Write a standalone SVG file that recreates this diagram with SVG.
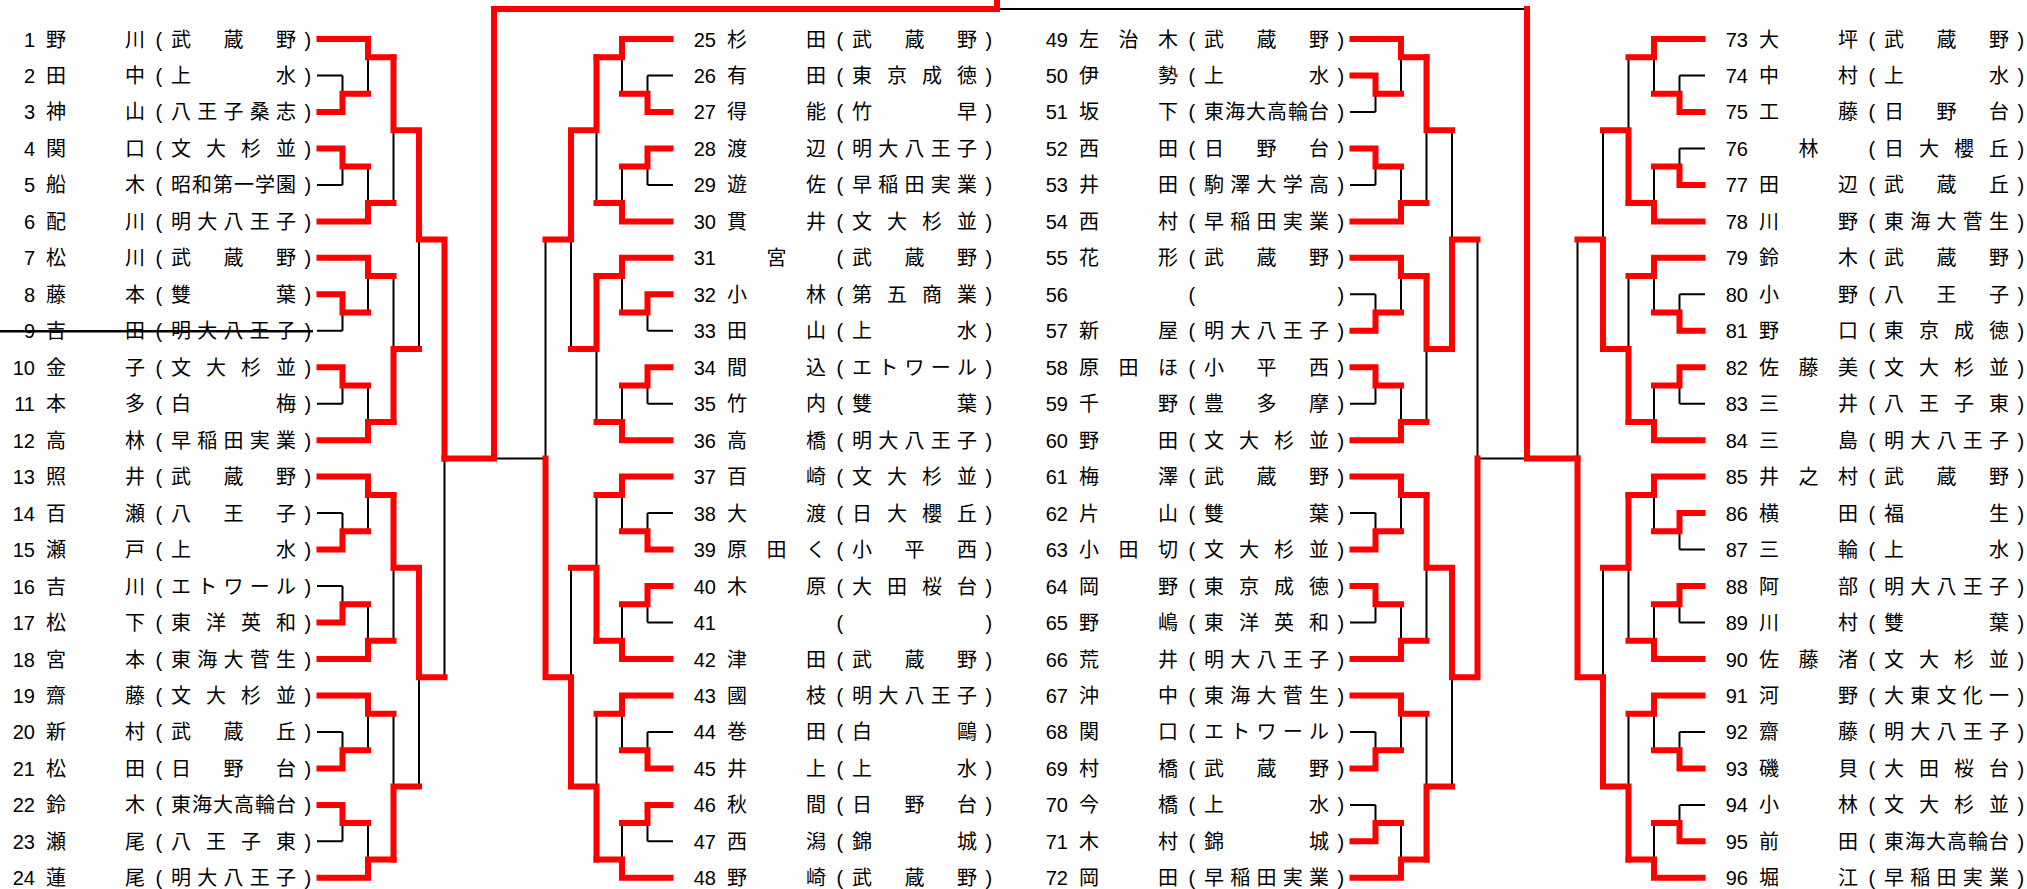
<svg xmlns="http://www.w3.org/2000/svg" xmlns:xlink="http://www.w3.org/1999/xlink" width="2027" height="889" viewBox="0 0 2027 889">
<style>
.n{font-family:"Liberation Sans",Arial,sans-serif;font-size:20px;text-anchor:end;fill:#000}
.p{font-family:"Liberation Sans",Arial,sans-serif;font-size:20px;fill:#000}
.t{font-family:"Noto Sans CJK JP","Noto Sans CJK SC",sans-serif;font-size:20px;fill:#000}
.m{text-anchor:middle}
.bk{fill:none;stroke:#000;stroke-width:2}
.rd{fill:none;stroke:#f00;stroke-width:6;stroke-linecap:square}
</style>
<defs>
<path id="bkt" class="bk" d="M0 39H51M0 75.5H25.5M0 111.9H25.5M25.5 75.5V111.9M25.5 93.7H51M51 39V93.7M51 57.2H76.5M0 148.4H25.5M0 184.9H25.5M0 221.4H51M25.5 148.4V184.9M25.5 166.6H51M51 166.6V221.4M51 203.1H76.5M76.5 57.2V203.1M76.5 130.2H102M0 257.8H51M0 294.3H25.5M0 330.8H25.5M25.5 294.3V330.8M25.5 312.5H51M51 257.8V312.5M51 276.1H76.5M0 367.2H25.5M0 403.7H25.5M0 440.2H51M25.5 367.2V403.7M25.5 385.5H51M51 385.5V440.2M51 421.9H76.5M76.5 276.1V421.9M76.5 349H102M0 476.6H51M0 513.1H25.5M0 549.6H25.5M25.5 513.1V549.6M25.5 531.3H51M51 476.6V531.3M51 494.9H76.5M0 586.1H25.5M0 622.5H25.5M0 659H51M25.5 586.1V622.5M25.5 604.3H51M51 604.3V659M51 640.8H76.5M76.5 494.9V640.8M76.5 567.8H102M0 695.5H51M0 731.9H25.5M0 768.4H25.5M25.5 731.9V768.4M25.5 750.2H51M51 695.5V750.2M51 713.7H76.5M0 804.9H25.5M0 841.3H25.5M0 877.8H51M25.5 804.9V841.3M25.5 823.1H51M51 823.1V877.8M51 859.6H76.5M76.5 713.7V859.6M76.5 786.6H102M102 130.2V349M102 239.6H127.5M102 567.8V786.6M102 677.2H127.5M127.5 239.6V677.2"/>
<path id="sd" class="rd" d="M2.5 39H51V57.2H76.5M2.5 221.4H51V203.1H76.5M2.5 257.8H51V276.1H76.5M2.5 440.2H51V421.9H76.5M2.5 476.6H51V494.9H76.5M2.5 659H51V640.8H76.5M2.5 695.5H51V713.7H76.5M2.5 877.8H51V859.6H76.5"/>
</defs>
<rect width="2027" height="889" fill="#fff"/>
<g id="connectors">
<use href="#bkt" xlink:href="#bkt" transform="translate(317 0)"/>
<use href="#bkt" xlink:href="#bkt" transform="translate(673 0) scale(-1 1)"/>
<use href="#bkt" xlink:href="#bkt" transform="translate(1350 0)"/>
<use href="#bkt" xlink:href="#bkt" transform="translate(1705 0) scale(-1 1)"/>
<path class="bk" d="M444.5 458.4H545.5M1477.5 458.4H1577.5M494 458.4V9H1527V458.4"/>
<g transform="translate(317 0)">
<use href="#sd" xlink:href="#sd"/>
<path class="rd" d="M2.5 111.9H25.5V93.7H51M2.5 148.4H25.5V166.6H51M76.5 57.2V130.2H102M2.5 294.3H25.5V312.5H51M2.5 367.2H25.5V385.5H51M76.5 421.9V349H102M2.5 549.6H25.5V531.3H51M2.5 622.5H25.5V604.3H51M76.5 494.9V567.8H102M2.5 768.4H25.5V750.2H51M2.5 804.9H25.5V823.1H51M76.5 859.6V786.6H102M102 130.2V239.6H127.5M102 567.8V677.2H127.5M127.5 239.6V458.4"/>
</g>
<g transform="translate(673 0) scale(-1 1)">
<use href="#sd" xlink:href="#sd"/>
<path class="rd" d="M2.5 111.9H25.5V93.7H51M2.5 148.4H25.5V166.6H51M76.5 57.2V130.2H102M2.5 294.3H25.5V312.5H51M2.5 367.2H25.5V385.5H51M76.5 276.1V349H102M2.5 549.6H25.5V531.3H51M2.5 586.1H25.5V604.3H51M76.5 640.8V567.8H102M2.5 768.4H25.5V750.2H51M2.5 804.9H25.5V823.1H51M76.5 859.6V786.6H102M102 130.2V239.6H127.5M102 786.6V677.2H127.5M127.5 677.2V458.4"/>
</g>
<g transform="translate(1350 0)">
<use href="#sd" xlink:href="#sd"/>
<path class="rd" d="M2.5 75.5H25.5V93.7H51M2.5 148.4H25.5V166.6H51M76.5 57.2V130.2H102M2.5 330.8H25.5V312.5H51M2.5 367.2H25.5V385.5H51M76.5 276.1V349H102M2.5 549.6H25.5V531.3H51M2.5 586.1H25.5V604.3H51M76.5 494.9V567.8H102M2.5 768.4H25.5V750.2H51M2.5 841.3H25.5V823.1H51M76.5 859.6V786.6H102M102 349V239.6H127.5M102 567.8V677.2H127.5M127.5 677.2V458.4"/>
</g>
<g transform="translate(1705 0) scale(-1 1)">
<use href="#sd" xlink:href="#sd"/>
<path class="rd" d="M2.5 111.9H25.5V93.7H51M2.5 184.9H25.5V166.6H51M76.5 203.1V130.2H102M2.5 330.8H25.5V312.5H51M2.5 367.2H25.5V385.5H51M76.5 421.9V349H102M2.5 513.1H25.5V531.3H51M2.5 586.1H25.5V604.3H51M76.5 494.9V567.8H102M2.5 768.4H25.5V750.2H51M2.5 841.3H25.5V823.1H51M76.5 859.6V786.6H102M102 349V239.6H127.5M102 786.6V677.2H127.5M127.5 677.2V458.4"/>
</g>
<path class="rd" d="M444.5 458.4H494V9H997V2M1577.5 458.4H1527V9"/>
</g>
<g id="p1" transform="translate(35 46.5)"><text class="n">1</text><text class="t" x="11" textLength="99">野川</text><text class="p" x="120.5">(</text><text class="t" x="136" textLength="125">武蔵野</text><text class="p" x="269.5">)</text></g>
<g id="p2" transform="translate(35 83)"><text class="n">2</text><text class="t" x="11" textLength="99">田中</text><text class="p" x="120.5">(</text><text class="t" x="136" textLength="125">上水</text><text class="p" x="269.5">)</text></g>
<g id="p3" transform="translate(35 119.4)"><text class="n">3</text><text class="t" x="11" textLength="99">神山</text><text class="p" x="120.5">(</text><text class="t" x="136" textLength="125">八王子桑志</text><text class="p" x="269.5">)</text></g>
<g id="p4" transform="translate(35 155.9)"><text class="n">4</text><text class="t" x="11" textLength="99">関口</text><text class="p" x="120.5">(</text><text class="t" x="136" textLength="125">文大杉並</text><text class="p" x="269.5">)</text></g>
<g id="p5" transform="translate(35 192.4)"><text class="n">5</text><text class="t" x="11" textLength="99">船木</text><text class="p" x="120.5">(</text><text class="t" x="136" textLength="125">昭和第一学園</text><text class="p" x="269.5">)</text></g>
<g id="p6" transform="translate(35 228.9)"><text class="n">6</text><text class="t" x="11" textLength="99">配川</text><text class="p" x="120.5">(</text><text class="t" x="136" textLength="125">明大八王子</text><text class="p" x="269.5">)</text></g>
<g id="p7" transform="translate(35 265.3)"><text class="n">7</text><text class="t" x="11" textLength="99">松川</text><text class="p" x="120.5">(</text><text class="t" x="136" textLength="125">武蔵野</text><text class="p" x="269.5">)</text></g>
<g id="p8" transform="translate(35 301.8)"><text class="n">8</text><text class="t" x="11" textLength="99">藤本</text><text class="p" x="120.5">(</text><text class="t" x="136" textLength="125">雙葉</text><text class="p" x="269.5">)</text></g>
<g id="p9" transform="translate(35 338.3)"><text class="n">9</text><text class="t" x="11" textLength="99">吉田</text><text class="p" x="120.5">(</text><text class="t" x="136" textLength="125">明大八王子</text><text class="p" x="269.5">)</text><path d="M-35 -7H278" stroke="#000" stroke-width="2.5"/></g>
<g id="p10" transform="translate(35 374.7)"><text class="n">10</text><text class="t" x="11" textLength="99">金子</text><text class="p" x="120.5">(</text><text class="t" x="136" textLength="125">文大杉並</text><text class="p" x="269.5">)</text></g>
<g id="p11" transform="translate(35 411.2)"><text class="n">11</text><text class="t" x="11" textLength="99">本多</text><text class="p" x="120.5">(</text><text class="t" x="136" textLength="125">白梅</text><text class="p" x="269.5">)</text></g>
<g id="p12" transform="translate(35 447.7)"><text class="n">12</text><text class="t" x="11" textLength="99">高林</text><text class="p" x="120.5">(</text><text class="t" x="136" textLength="125">早稲田実業</text><text class="p" x="269.5">)</text></g>
<g id="p13" transform="translate(35 484.1)"><text class="n">13</text><text class="t" x="11" textLength="99">照井</text><text class="p" x="120.5">(</text><text class="t" x="136" textLength="125">武蔵野</text><text class="p" x="269.5">)</text></g>
<g id="p14" transform="translate(35 520.6)"><text class="n">14</text><text class="t" x="11" textLength="99">百瀬</text><text class="p" x="120.5">(</text><text class="t" x="136" textLength="125">八王子</text><text class="p" x="269.5">)</text></g>
<g id="p15" transform="translate(35 557.1)"><text class="n">15</text><text class="t" x="11" textLength="99">瀬戸</text><text class="p" x="120.5">(</text><text class="t" x="136" textLength="125">上水</text><text class="p" x="269.5">)</text></g>
<g id="p16" transform="translate(35 593.6)"><text class="n">16</text><text class="t" x="11" textLength="99">吉川</text><text class="p" x="120.5">(</text><text class="t" x="136" textLength="125">エトワール</text><text class="p" x="269.5">)</text></g>
<g id="p17" transform="translate(35 630)"><text class="n">17</text><text class="t" x="11" textLength="99">松下</text><text class="p" x="120.5">(</text><text class="t" x="136" textLength="125">東洋英和</text><text class="p" x="269.5">)</text></g>
<g id="p18" transform="translate(35 666.5)"><text class="n">18</text><text class="t" x="11" textLength="99">宮本</text><text class="p" x="120.5">(</text><text class="t" x="136" textLength="125">東海大菅生</text><text class="p" x="269.5">)</text></g>
<g id="p19" transform="translate(35 703)"><text class="n">19</text><text class="t" x="11" textLength="99">齋藤</text><text class="p" x="120.5">(</text><text class="t" x="136" textLength="125">文大杉並</text><text class="p" x="269.5">)</text></g>
<g id="p20" transform="translate(35 739.4)"><text class="n">20</text><text class="t" x="11" textLength="99">新村</text><text class="p" x="120.5">(</text><text class="t" x="136" textLength="125">武蔵丘</text><text class="p" x="269.5">)</text></g>
<g id="p21" transform="translate(35 775.9)"><text class="n">21</text><text class="t" x="11" textLength="99">松田</text><text class="p" x="120.5">(</text><text class="t" x="136" textLength="125">日野台</text><text class="p" x="269.5">)</text></g>
<g id="p22" transform="translate(35 812.4)"><text class="n">22</text><text class="t" x="11" textLength="99">鈴木</text><text class="p" x="120.5">(</text><text class="t" x="136" textLength="125">東海大高輪台</text><text class="p" x="269.5">)</text></g>
<g id="p23" transform="translate(35 848.8)"><text class="n">23</text><text class="t" x="11" textLength="99">瀬尾</text><text class="p" x="120.5">(</text><text class="t" x="136" textLength="125">八王子東</text><text class="p" x="269.5">)</text></g>
<g id="p24" transform="translate(35 885.3)"><text class="n">24</text><text class="t" x="11" textLength="99">蓮尾</text><text class="p" x="120.5">(</text><text class="t" x="136" textLength="125">明大八王子</text><text class="p" x="269.5">)</text></g>
<g id="p25" transform="translate(716 46.5)"><text class="n">25</text><text class="t" x="11" textLength="99">杉田</text><text class="p" x="120.5">(</text><text class="t" x="136" textLength="125">武蔵野</text><text class="p" x="269.5">)</text></g>
<g id="p26" transform="translate(716 83)"><text class="n">26</text><text class="t" x="11" textLength="99">有田</text><text class="p" x="120.5">(</text><text class="t" x="136" textLength="125">東京成徳</text><text class="p" x="269.5">)</text></g>
<g id="p27" transform="translate(716 119.4)"><text class="n">27</text><text class="t" x="11" textLength="99">得能</text><text class="p" x="120.5">(</text><text class="t" x="136" textLength="125">竹早</text><text class="p" x="269.5">)</text></g>
<g id="p28" transform="translate(716 155.9)"><text class="n">28</text><text class="t" x="11" textLength="99">渡辺</text><text class="p" x="120.5">(</text><text class="t" x="136" textLength="125">明大八王子</text><text class="p" x="269.5">)</text></g>
<g id="p29" transform="translate(716 192.4)"><text class="n">29</text><text class="t" x="11" textLength="99">遊佐</text><text class="p" x="120.5">(</text><text class="t" x="136" textLength="125">早稲田実業</text><text class="p" x="269.5">)</text></g>
<g id="p30" transform="translate(716 228.9)"><text class="n">30</text><text class="t" x="11" textLength="99">貫井</text><text class="p" x="120.5">(</text><text class="t" x="136" textLength="125">文大杉並</text><text class="p" x="269.5">)</text></g>
<g id="p31" transform="translate(716 265.3)"><text class="n">31</text><text class="t m" x="60.5">宮</text><text class="p" x="120.5">(</text><text class="t" x="136" textLength="125">武蔵野</text><text class="p" x="269.5">)</text></g>
<g id="p32" transform="translate(716 301.8)"><text class="n">32</text><text class="t" x="11" textLength="99">小林</text><text class="p" x="120.5">(</text><text class="t" x="136" textLength="125">第五商業</text><text class="p" x="269.5">)</text></g>
<g id="p33" transform="translate(716 338.3)"><text class="n">33</text><text class="t" x="11" textLength="99">田山</text><text class="p" x="120.5">(</text><text class="t" x="136" textLength="125">上水</text><text class="p" x="269.5">)</text></g>
<g id="p34" transform="translate(716 374.7)"><text class="n">34</text><text class="t" x="11" textLength="99">間込</text><text class="p" x="120.5">(</text><text class="t" x="136" textLength="125">エトワール</text><text class="p" x="269.5">)</text></g>
<g id="p35" transform="translate(716 411.2)"><text class="n">35</text><text class="t" x="11" textLength="99">竹内</text><text class="p" x="120.5">(</text><text class="t" x="136" textLength="125">雙葉</text><text class="p" x="269.5">)</text></g>
<g id="p36" transform="translate(716 447.7)"><text class="n">36</text><text class="t" x="11" textLength="99">高橋</text><text class="p" x="120.5">(</text><text class="t" x="136" textLength="125">明大八王子</text><text class="p" x="269.5">)</text></g>
<g id="p37" transform="translate(716 484.1)"><text class="n">37</text><text class="t" x="11" textLength="99">百崎</text><text class="p" x="120.5">(</text><text class="t" x="136" textLength="125">文大杉並</text><text class="p" x="269.5">)</text></g>
<g id="p38" transform="translate(716 520.6)"><text class="n">38</text><text class="t" x="11" textLength="99">大渡</text><text class="p" x="120.5">(</text><text class="t" x="136" textLength="125">日大櫻丘</text><text class="p" x="269.5">)</text></g>
<g id="p39" transform="translate(716 557.1)"><text class="n">39</text><text class="t" x="11" textLength="99">原田く</text><text class="p" x="120.5">(</text><text class="t" x="136" textLength="125">小平西</text><text class="p" x="269.5">)</text></g>
<g id="p40" transform="translate(716 593.6)"><text class="n">40</text><text class="t" x="11" textLength="99">木原</text><text class="p" x="120.5">(</text><text class="t" x="136" textLength="125">大田桜台</text><text class="p" x="269.5">)</text></g>
<g id="p41" transform="translate(716 630)"><text class="n">41</text><text class="p" x="120.5">(</text><text class="p" x="269.5">)</text></g>
<g id="p42" transform="translate(716 666.5)"><text class="n">42</text><text class="t" x="11" textLength="99">津田</text><text class="p" x="120.5">(</text><text class="t" x="136" textLength="125">武蔵野</text><text class="p" x="269.5">)</text></g>
<g id="p43" transform="translate(716 703)"><text class="n">43</text><text class="t" x="11" textLength="99">國枝</text><text class="p" x="120.5">(</text><text class="t" x="136" textLength="125">明大八王子</text><text class="p" x="269.5">)</text></g>
<g id="p44" transform="translate(716 739.4)"><text class="n">44</text><text class="t" x="11" textLength="99">巻田</text><text class="p" x="120.5">(</text><text class="t" x="136" textLength="125">白鷗</text><text class="p" x="269.5">)</text></g>
<g id="p45" transform="translate(716 775.9)"><text class="n">45</text><text class="t" x="11" textLength="99">井上</text><text class="p" x="120.5">(</text><text class="t" x="136" textLength="125">上水</text><text class="p" x="269.5">)</text></g>
<g id="p46" transform="translate(716 812.4)"><text class="n">46</text><text class="t" x="11" textLength="99">秋間</text><text class="p" x="120.5">(</text><text class="t" x="136" textLength="125">日野台</text><text class="p" x="269.5">)</text></g>
<g id="p47" transform="translate(716 848.8)"><text class="n">47</text><text class="t" x="11" textLength="99">西潟</text><text class="p" x="120.5">(</text><text class="t" x="136" textLength="125">錦城</text><text class="p" x="269.5">)</text></g>
<g id="p48" transform="translate(716 885.3)"><text class="n">48</text><text class="t" x="11" textLength="99">野崎</text><text class="p" x="120.5">(</text><text class="t" x="136" textLength="125">武蔵野</text><text class="p" x="269.5">)</text></g>
<g id="p49" transform="translate(1068 46.5)"><text class="n">49</text><text class="t" x="11" textLength="99">左治木</text><text class="p" x="120.5">(</text><text class="t" x="136" textLength="125">武蔵野</text><text class="p" x="269.5">)</text></g>
<g id="p50" transform="translate(1068 83)"><text class="n">50</text><text class="t" x="11" textLength="99">伊勢</text><text class="p" x="120.5">(</text><text class="t" x="136" textLength="125">上水</text><text class="p" x="269.5">)</text></g>
<g id="p51" transform="translate(1068 119.4)"><text class="n">51</text><text class="t" x="11" textLength="99">坂下</text><text class="p" x="120.5">(</text><text class="t" x="136" textLength="125">東海大高輪台</text><text class="p" x="269.5">)</text></g>
<g id="p52" transform="translate(1068 155.9)"><text class="n">52</text><text class="t" x="11" textLength="99">西田</text><text class="p" x="120.5">(</text><text class="t" x="136" textLength="125">日野台</text><text class="p" x="269.5">)</text></g>
<g id="p53" transform="translate(1068 192.4)"><text class="n">53</text><text class="t" x="11" textLength="99">井田</text><text class="p" x="120.5">(</text><text class="t" x="136" textLength="125">駒澤大学高</text><text class="p" x="269.5">)</text></g>
<g id="p54" transform="translate(1068 228.9)"><text class="n">54</text><text class="t" x="11" textLength="99">西村</text><text class="p" x="120.5">(</text><text class="t" x="136" textLength="125">早稲田実業</text><text class="p" x="269.5">)</text></g>
<g id="p55" transform="translate(1068 265.3)"><text class="n">55</text><text class="t" x="11" textLength="99">花形</text><text class="p" x="120.5">(</text><text class="t" x="136" textLength="125">武蔵野</text><text class="p" x="269.5">)</text></g>
<g id="p56" transform="translate(1068 301.8)"><text class="n">56</text><text class="p" x="120.5">(</text><text class="p" x="269.5">)</text></g>
<g id="p57" transform="translate(1068 338.3)"><text class="n">57</text><text class="t" x="11" textLength="99">新屋</text><text class="p" x="120.5">(</text><text class="t" x="136" textLength="125">明大八王子</text><text class="p" x="269.5">)</text></g>
<g id="p58" transform="translate(1068 374.7)"><text class="n">58</text><text class="t" x="11" textLength="99">原田ほ</text><text class="p" x="120.5">(</text><text class="t" x="136" textLength="125">小平西</text><text class="p" x="269.5">)</text></g>
<g id="p59" transform="translate(1068 411.2)"><text class="n">59</text><text class="t" x="11" textLength="99">千野</text><text class="p" x="120.5">(</text><text class="t" x="136" textLength="125">豊多摩</text><text class="p" x="269.5">)</text></g>
<g id="p60" transform="translate(1068 447.7)"><text class="n">60</text><text class="t" x="11" textLength="99">野田</text><text class="p" x="120.5">(</text><text class="t" x="136" textLength="125">文大杉並</text><text class="p" x="269.5">)</text></g>
<g id="p61" transform="translate(1068 484.1)"><text class="n">61</text><text class="t" x="11" textLength="99">梅澤</text><text class="p" x="120.5">(</text><text class="t" x="136" textLength="125">武蔵野</text><text class="p" x="269.5">)</text></g>
<g id="p62" transform="translate(1068 520.6)"><text class="n">62</text><text class="t" x="11" textLength="99">片山</text><text class="p" x="120.5">(</text><text class="t" x="136" textLength="125">雙葉</text><text class="p" x="269.5">)</text></g>
<g id="p63" transform="translate(1068 557.1)"><text class="n">63</text><text class="t" x="11" textLength="99">小田切</text><text class="p" x="120.5">(</text><text class="t" x="136" textLength="125">文大杉並</text><text class="p" x="269.5">)</text></g>
<g id="p64" transform="translate(1068 593.6)"><text class="n">64</text><text class="t" x="11" textLength="99">岡野</text><text class="p" x="120.5">(</text><text class="t" x="136" textLength="125">東京成徳</text><text class="p" x="269.5">)</text></g>
<g id="p65" transform="translate(1068 630)"><text class="n">65</text><text class="t" x="11" textLength="99">野嶋</text><text class="p" x="120.5">(</text><text class="t" x="136" textLength="125">東洋英和</text><text class="p" x="269.5">)</text></g>
<g id="p66" transform="translate(1068 666.5)"><text class="n">66</text><text class="t" x="11" textLength="99">荒井</text><text class="p" x="120.5">(</text><text class="t" x="136" textLength="125">明大八王子</text><text class="p" x="269.5">)</text></g>
<g id="p67" transform="translate(1068 703)"><text class="n">67</text><text class="t" x="11" textLength="99">沖中</text><text class="p" x="120.5">(</text><text class="t" x="136" textLength="125">東海大菅生</text><text class="p" x="269.5">)</text></g>
<g id="p68" transform="translate(1068 739.4)"><text class="n">68</text><text class="t" x="11" textLength="99">関口</text><text class="p" x="120.5">(</text><text class="t" x="136" textLength="125">エトワール</text><text class="p" x="269.5">)</text></g>
<g id="p69" transform="translate(1068 775.9)"><text class="n">69</text><text class="t" x="11" textLength="99">村橋</text><text class="p" x="120.5">(</text><text class="t" x="136" textLength="125">武蔵野</text><text class="p" x="269.5">)</text></g>
<g id="p70" transform="translate(1068 812.4)"><text class="n">70</text><text class="t" x="11" textLength="99">今橋</text><text class="p" x="120.5">(</text><text class="t" x="136" textLength="125">上水</text><text class="p" x="269.5">)</text></g>
<g id="p71" transform="translate(1068 848.8)"><text class="n">71</text><text class="t" x="11" textLength="99">木村</text><text class="p" x="120.5">(</text><text class="t" x="136" textLength="125">錦城</text><text class="p" x="269.5">)</text></g>
<g id="p72" transform="translate(1068 885.3)"><text class="n">72</text><text class="t" x="11" textLength="99">岡田</text><text class="p" x="120.5">(</text><text class="t" x="136" textLength="125">早稲田実業</text><text class="p" x="269.5">)</text></g>
<g id="p73" transform="translate(1748 46.5)"><text class="n">73</text><text class="t" x="11" textLength="99">大坪</text><text class="p" x="120.5">(</text><text class="t" x="136" textLength="125">武蔵野</text><text class="p" x="269.5">)</text></g>
<g id="p74" transform="translate(1748 83)"><text class="n">74</text><text class="t" x="11" textLength="99">中村</text><text class="p" x="120.5">(</text><text class="t" x="136" textLength="125">上水</text><text class="p" x="269.5">)</text></g>
<g id="p75" transform="translate(1748 119.4)"><text class="n">75</text><text class="t" x="11" textLength="99">工藤</text><text class="p" x="120.5">(</text><text class="t" x="136" textLength="125">日野台</text><text class="p" x="269.5">)</text></g>
<g id="p76" transform="translate(1748 155.9)"><text class="n">76</text><text class="t m" x="60.5">林</text><text class="p" x="120.5">(</text><text class="t" x="136" textLength="125">日大櫻丘</text><text class="p" x="269.5">)</text></g>
<g id="p77" transform="translate(1748 192.4)"><text class="n">77</text><text class="t" x="11" textLength="99">田辺</text><text class="p" x="120.5">(</text><text class="t" x="136" textLength="125">武蔵丘</text><text class="p" x="269.5">)</text></g>
<g id="p78" transform="translate(1748 228.9)"><text class="n">78</text><text class="t" x="11" textLength="99">川野</text><text class="p" x="120.5">(</text><text class="t" x="136" textLength="125">東海大菅生</text><text class="p" x="269.5">)</text></g>
<g id="p79" transform="translate(1748 265.3)"><text class="n">79</text><text class="t" x="11" textLength="99">鈴木</text><text class="p" x="120.5">(</text><text class="t" x="136" textLength="125">武蔵野</text><text class="p" x="269.5">)</text></g>
<g id="p80" transform="translate(1748 301.8)"><text class="n">80</text><text class="t" x="11" textLength="99">小野</text><text class="p" x="120.5">(</text><text class="t" x="136" textLength="125">八王子</text><text class="p" x="269.5">)</text></g>
<g id="p81" transform="translate(1748 338.3)"><text class="n">81</text><text class="t" x="11" textLength="99">野口</text><text class="p" x="120.5">(</text><text class="t" x="136" textLength="125">東京成徳</text><text class="p" x="269.5">)</text></g>
<g id="p82" transform="translate(1748 374.7)"><text class="n">82</text><text class="t" x="11" textLength="99">佐藤美</text><text class="p" x="120.5">(</text><text class="t" x="136" textLength="125">文大杉並</text><text class="p" x="269.5">)</text></g>
<g id="p83" transform="translate(1748 411.2)"><text class="n">83</text><text class="t" x="11" textLength="99">三井</text><text class="p" x="120.5">(</text><text class="t" x="136" textLength="125">八王子東</text><text class="p" x="269.5">)</text></g>
<g id="p84" transform="translate(1748 447.7)"><text class="n">84</text><text class="t" x="11" textLength="99">三島</text><text class="p" x="120.5">(</text><text class="t" x="136" textLength="125">明大八王子</text><text class="p" x="269.5">)</text></g>
<g id="p85" transform="translate(1748 484.1)"><text class="n">85</text><text class="t" x="11" textLength="99">井之村</text><text class="p" x="120.5">(</text><text class="t" x="136" textLength="125">武蔵野</text><text class="p" x="269.5">)</text></g>
<g id="p86" transform="translate(1748 520.6)"><text class="n">86</text><text class="t" x="11" textLength="99">横田</text><text class="p" x="120.5">(</text><text class="t" x="136" textLength="125">福生</text><text class="p" x="269.5">)</text></g>
<g id="p87" transform="translate(1748 557.1)"><text class="n">87</text><text class="t" x="11" textLength="99">三輪</text><text class="p" x="120.5">(</text><text class="t" x="136" textLength="125">上水</text><text class="p" x="269.5">)</text></g>
<g id="p88" transform="translate(1748 593.6)"><text class="n">88</text><text class="t" x="11" textLength="99">阿部</text><text class="p" x="120.5">(</text><text class="t" x="136" textLength="125">明大八王子</text><text class="p" x="269.5">)</text></g>
<g id="p89" transform="translate(1748 630)"><text class="n">89</text><text class="t" x="11" textLength="99">川村</text><text class="p" x="120.5">(</text><text class="t" x="136" textLength="125">雙葉</text><text class="p" x="269.5">)</text></g>
<g id="p90" transform="translate(1748 666.5)"><text class="n">90</text><text class="t" x="11" textLength="99">佐藤渚</text><text class="p" x="120.5">(</text><text class="t" x="136" textLength="125">文大杉並</text><text class="p" x="269.5">)</text></g>
<g id="p91" transform="translate(1748 703)"><text class="n">91</text><text class="t" x="11" textLength="99">河野</text><text class="p" x="120.5">(</text><text class="t" x="136" textLength="125">大東文化一</text><text class="p" x="269.5">)</text></g>
<g id="p92" transform="translate(1748 739.4)"><text class="n">92</text><text class="t" x="11" textLength="99">齋藤</text><text class="p" x="120.5">(</text><text class="t" x="136" textLength="125">明大八王子</text><text class="p" x="269.5">)</text></g>
<g id="p93" transform="translate(1748 775.9)"><text class="n">93</text><text class="t" x="11" textLength="99">磯貝</text><text class="p" x="120.5">(</text><text class="t" x="136" textLength="125">大田桜台</text><text class="p" x="269.5">)</text></g>
<g id="p94" transform="translate(1748 812.4)"><text class="n">94</text><text class="t" x="11" textLength="99">小林</text><text class="p" x="120.5">(</text><text class="t" x="136" textLength="125">文大杉並</text><text class="p" x="269.5">)</text></g>
<g id="p95" transform="translate(1748 848.8)"><text class="n">95</text><text class="t" x="11" textLength="99">前田</text><text class="p" x="120.5">(</text><text class="t" x="136" textLength="125">東海大高輪台</text><text class="p" x="269.5">)</text></g>
<g id="p96" transform="translate(1748 885.3)"><text class="n">96</text><text class="t" x="11" textLength="99">堀江</text><text class="p" x="120.5">(</text><text class="t" x="136" textLength="125">早稲田実業</text><text class="p" x="269.5">)</text></g>
</svg>
